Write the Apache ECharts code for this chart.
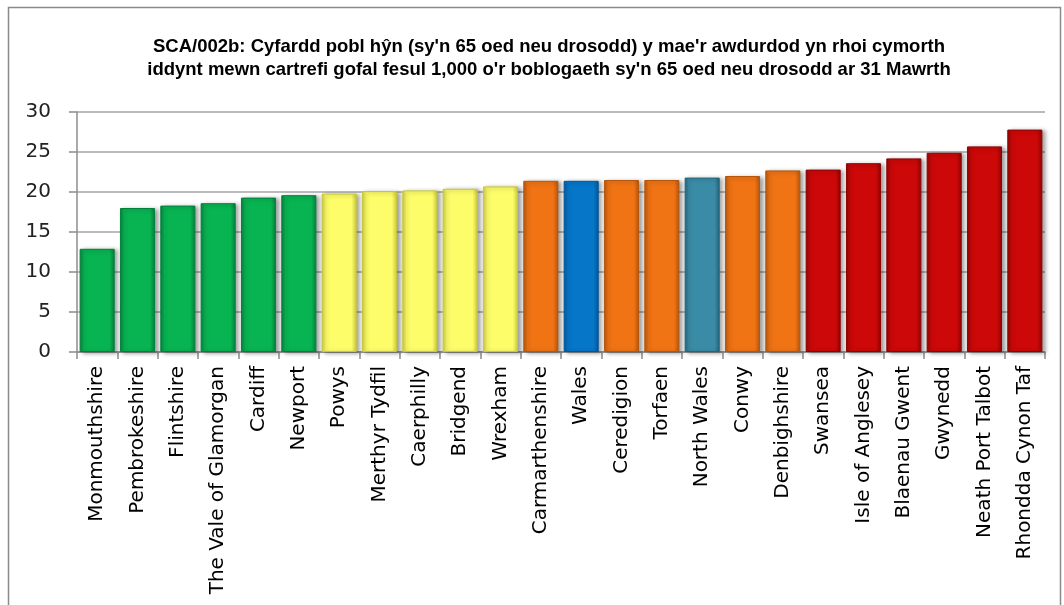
<!DOCTYPE html>
<html>
<head>
<meta charset="utf-8">
<script src="https://cdn.jsdelivr.net/npm/echarts@6/dist/echarts.min.js"></script>
<style>
  html, body { margin: 0; padding: 0; background: #fff; }
  #main { width: 1064px; height: 605px; }
</style>
</head>
<body>
<div id="main"></div>
<script>
// awdurdodau lleol, wedi'u trefnu o'r isaf i'r uchaf
var categories = ['Monmouthshire', 'Pembrokeshire', 'Flintshire', 'The Vale of Glamorgan', 'Cardiff', 'Newport',
  'Powys', 'Merthyr Tydfil', 'Caerphilly', 'Bridgend', 'Wrexham', 'Carmarthenshire', 'Wales', 'Ceredigion',
  'Torfaen', 'North Wales', 'Conwy', 'Denbighshire', 'Swansea', 'Isle of Anglesey', 'Blaenau Gwent',
  'Gwynedd', 'Neath Port Talbot', 'Rhondda Cynon Taf'];
var values = [12.9, 18.0, 18.3, 18.6, 19.3, 19.6, 19.8, 20.1, 20.2, 20.4, 20.7, 21.4, 21.4, 21.5,
  21.5, 21.8, 22.0, 22.7, 22.8, 23.6, 24.2, 24.9, 25.7, 27.8];
// band per bar: chwartel / Cymru / rhanbarth
var bands = ['q1', 'q1', 'q1', 'q1', 'q1', 'q1', 'q2', 'q2', 'q2', 'q2', 'q2', 'q3', 'wales', 'q3',
  'q3', 'region', 'q3', 'q3', 'q4', 'q4', 'q4', 'q4', 'q4', 'q4'];
var yTicks = [0, 5, 10, 15, 20, 25, 30];

var bandColors = {
  q1: ['#04803c', '#08b452', '#2cc96c'],
  q2: ['#c8c83a', '#fdfd6a', '#ffff9a'],
  q3: ['#b4560c', '#f07314', '#f79a48'],
  wales: ['#04569a', '#0676c9', '#3aa4ea'],
  region: ['#25647a', '#3a8ca6', '#64b6cf'],
  q4: ['#8e0404', '#cc0808', '#e63030']
};

function barStyle(b) {
  var c = bandColors[b];
  return {
    color: new echarts.graphic.LinearGradient(0, 0, 1, 0, [
      { offset: 0, color: c[0] },
      { offset: 0.12, color: c[1] },
      { offset: 0.85, color: c[1] },
      { offset: 1, color: c[0] }
    ]),
    borderColor: c[0],
    borderWidth: 1,
    shadowColor: 'rgba(0,0,0,0.35)',
    shadowBlur: 4,
    shadowOffsetX: 3,
    shadowOffsetY: 1
  };
}

var seriesData = values.map(function (v, i) {
  return { value: v, itemStyle: barStyle(bands[i]) };
});

var chart = echarts.init(document.getElementById('main'), null, { renderer: 'canvas' });
chart.setOption({
  backgroundColor: '#fff',
  animation: false,
  title: {
    text: "SCA/002b: Cyfardd pobl hŷn (sy'n 65 oed neu drosodd) y mae'r awdurdod yn rhoi cymorth\niddynt mewn cartrefi gofal fesul 1,000 o'r boblogaeth sy'n 65 oed neu drosodd ar 31 Mawrth",
    left: 544,
    top: 30,
    textAlign: 'center',
    textStyle: {
      fontFamily: 'Liberation Sans',
      fontSize: 18.5,
      fontWeight: 'bold',
      color: '#000',
      lineHeight: 23
    }
  },
  graphic: [{
    type: 'rect',
    shape: { x: 8.5, y: 7.5, width: 1052, height: 640 },
    style: { fill: 'none', stroke: '#8a8a8a', lineWidth: 1.5 },
    silent: true
  }],
  grid: { left: 77, right: 19, top: 112, bottom: 253 },
  xAxis: {
    type: 'category',
    data: categories,
    axisLine: { lineStyle: { color: '#8c8c8c', width: 1.5 } },
    axisTick: { show: true, alignWithLabel: false, length: 7, lineStyle: { color: '#8c8c8c', width: 1.5 } },
    axisLabel: {
      rotate: 90,
      interval: 0,
      margin: 14,
      fontFamily: 'DejaVu Sans',
      fontSize: 20,
      color: '#000'
    }
  },
  yAxis: {
    type: 'value',
    min: yTicks[0],
    max: yTicks[yTicks.length - 1],
    interval: 5,
    axisLine: { show: true, lineStyle: { color: '#8c8c8c', width: 1.5 } },
    axisTick: { show: true, inside: false, length: 8, lineStyle: { color: '#8c8c8c', width: 1.5 } },
    splitLine: { lineStyle: { color: '#a6a6a6', width: 1.5 } },
    axisLabel: {
      margin: 26,
      fontFamily: 'DejaVu Sans',
      fontSize: 20,
      color: '#222'
    }
  },
  series: [{
    type: 'bar',
    data: seriesData,
    barCategoryGap: '13%'
  }]
});
</script>
</body>
</html>
